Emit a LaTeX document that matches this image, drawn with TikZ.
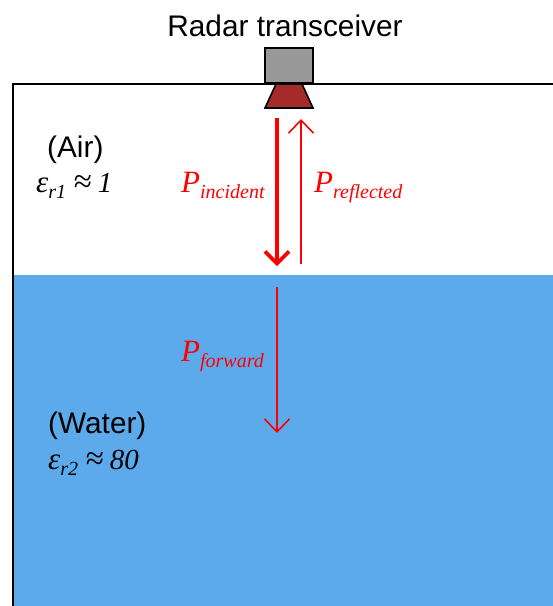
\documentclass[tikz,border=0pt]{standalone}
\usepackage{fontspec}
\setmainfont{Liberation Sans}
\newfontfamily\symfont{Liberation Serif}
\usetikzlibrary{arrows.meta}
\definecolor{waterblue}{HTML}{5CAAEC}
\definecolor{hornbrown}{HTML}{A52A2A}
\newcommand{\powerlabel}[1]{{\fontsize{31}{31}\selectfont P}\raisebox{-6pt}{\fontsize{20}{20}\selectfont #1}}
\newcommand{\permlabel}[2]{{\fontsize{31}{31}\selectfont ε}\raisebox{-6pt}{\fontsize{20}{20}\selectfont r#1}{\fontsize{29}{29}\selectfont\ {\fontsize{33}{33}\selectfont ≈}\hspace{-1pt}\ #2}}
\begin{document}
\begin{tikzpicture}[
  x=1pt,y=-1pt,
  line join=miter,
  medium/.style={anchor=base west,inner sep=0pt,font=\fontsize{29.8}{29.8}\selectfont},
  power/.style={anchor=base west,inner sep=0pt,text=red,font=\symfont\itshape},
  perm/.style={anchor=base west,inner sep=0pt,font=\symfont\itshape},
  thinray/.style={red,line width=1.6pt,-{Straight Barb[length=13pt,width=25pt,line width=1.6pt]}},
  thickray/.style={red,line width=3.6pt,-{Straight Barb[length=12pt,width=24pt,line width=3.6pt]}}
]
  \useasboundingbox (0,0) rectangle (553,606);
  \fill[waterblue] (13,275) rectangle (553,606);
  \draw[black,line width=2pt] (13,606) -- (13,84) -- (553,84);
  \node[draw=black,fill=black!40,line width=1.6pt,minimum width=48pt,minimum height=35pt,inner sep=0pt] (box) at (289,65.5) {};
  \draw[fill=hornbrown,line width=1.6pt] (276,84) -- (302,84) -- (313,108) -- (265,108) -- cycle;
  \node[anchor=base,inner sep=0pt,font=\fontsize{29.8}{29.8}\selectfont] (radar) at (285,36) {Radar transceiver};
  \coordinate (ia) at (277,118);
  \coordinate (ib) at (277,266);
  \coordinate (ra) at (301,264);
  \coordinate (rb) at (301,119);
  \coordinate (fa) at (277,287);
  \coordinate (fb) at (277,433);
  \draw[thickray] (ia) -- (ib);
  \draw[thinray] (ra) -- (rb);
  \draw[thinray] (fa) -- (fb);
  \node[power] (pinc) at (181,192) {\powerlabel{incident}};
  \node[power] (pref) at (314,192) {\powerlabel{reflected}};
  \node[power] (pfwd) at (181,361) {\powerlabel{forward}};
  \node[medium] (air) at (47,157) {(Air)};
  \node[perm] (eair) at (36,192) {\permlabel{1}{1}};
  \node[medium] (water) at (48,433) {(Water)};
  \node[perm] (ewater) at (48,469) {\permlabel{2}{80}};
\end{tikzpicture}
\end{document}
